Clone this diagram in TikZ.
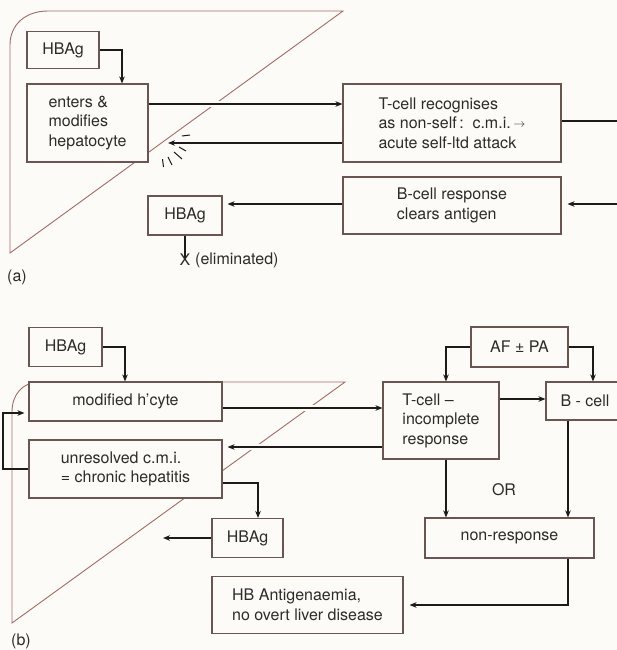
\documentclass[tikz,border=0pt]{standalone}
\usepackage{fontspec}
\setmainfont{TeX Gyre Heros}
\usetikzlibrary{arrows.meta}
\definecolor{bgc}{HTML}{FDFBF8}
\definecolor{boxc}{HTML}{6B5550}
\definecolor{arrc}{HTML}{1E1A1A}
\definecolor{txtc}{HTML}{2E2A2A}
\definecolor{livc}{HTML}{A36B63}
\tikzset{
  box/.style={draw=boxc, line width=1.1pt, fill=bgc, inner sep=0pt, align=left, text=txtc},
  lbl/.style={inner sep=0pt, text=txtc},
  arr/.style={draw=arrc, line width=1.9pt, -{Stealth[length=7pt,width=5.5pt]}},
  ln/.style={draw=arrc, line width=1.9pt},
  tick/.style={draw=arrc, line width=1pt},
  liver/.style={draw=livc, line width=0.9pt},
  halo/.style={preaction={draw=bgc, line width=6pt, arrows=-}}
}
\newcommand{\smarr}{\raisebox{1.5pt}{\fontsize{12}{12}\selectfont$\rightarrow$}}
\begin{document}
\begin{tikzpicture}[x=1pt,y=-1pt,font=\fontsize{16}{19.5}\selectfont]
\useasboundingbox (0,0) rectangle (617,650);
\fill[bgc] (0,0) rectangle (617,650);

% ---------- (a) ----------
\draw[liver] (10,253) -- (10,45) .. controls (10,25) and (25,11) .. (48,11) -- (343,11) -- cycle;

\coordinate (y1) at (0,104);
\coordinate (burst) at (168,143);
\coordinate (ea) at (617,121);
\coordinate (eb) at (617,204);

\node[box, minimum width=72pt, minimum height=37pt] (hb1) at (63,50) {HBAg};
\node[box, minimum width=121pt, minimum height=78pt] (mod1) at (87.5,123) {enters \&\\modifies\\hepatocyte};
\node[box, minimum width=218pt, minimum height=78pt] (tc1) at (452,123) {T-cell recognises\\as non-self\,:\, c.m.i.\,\smarr\\acute self-ltd attack};
\node[box, minimum width=218pt, minimum height=57pt] (bc1) at (452,205.5) {B-cell response\\clears antigen};
\node[box, minimum width=74pt, minimum height=39pt] (hb2) at (185,215.5) {HBAg};

\draw[arr] (hb1.east) -| ([xshift=34.5pt]mod1.north);
\draw[arr,halo] (mod1.east |- y1) -- (tc1.west |- y1);
\draw[arr] (tc1.west |- burst) -- (burst);
\draw[ln] (tc1.east |- ea) -- (ea);
\draw[arr, shorten >=6pt] (eb) -- (bc1.east |- eb);
\draw[arr, shorten >=5pt] (bc1.west |- eb) -- (hb2.east |- eb);

\coordinate (xm) at (185,260);
\draw[ln] (hb2.south) -- (xm);
\node[lbl] (xx) at (xm) {X};
\node[lbl, anchor=west] (elim) at (195,260) {(eliminated)};

% burst marks
\draw[tick] (182,136) -- (190,135);
\draw[tick] (179,147) -- (186,151);
\draw[tick] (174,152) -- (182,159);
\draw[tick] (168,157) -- (172,165);
\draw[tick] (162.5,159) -- (163.5,167);

\node[lbl] (la) at (17,277) {(a)};

% ---------- (b) ----------
\draw[liver] (12,623) -- (12,412) .. controls (12,395) and (22,382) .. (40,382) -- (345,382) -- cycle;

\coordinate (y2) at (0,408);
\coordinate (y3) at (0,447);
\coordinate (y4) at (0,483);
\coordinate (y5) at (0,399);
\coordinate (lp) at (3,413);
\coordinate (t4) at (163,538);
\coordinate (xb) at (568,0);

\node[box, minimum width=73pt, minimum height=39pt] (hb3) at (65.5,347) {HBAg};
\node[box, minimum width=193pt, minimum height=39pt] (mod2) at (125.5,401.5) {modified h'cyte};
\node[box, minimum width=193pt, minimum height=58pt] (unr) at (125.5,469) {unresolved c.m.i.\\= chronic hepatitis};
\node[box, minimum width=71pt, minimum height=39pt] (hb4) at (247.5,538) {HBAg};
\node[box, minimum width=191pt, minimum height=57pt] (hba) at (307.5,605) {HB Antigenaemia,\\no overt liver disease};
\node[box, minimum width=97pt, minimum height=40pt] (af) at (519.5,347) {AF ± PA};
\node[box, minimum width=116pt, minimum height=77pt] (tc2) at (441,420.5) {T-cell --\\incomplete\\response};
\node[box, minimum width=78pt, minimum height=38pt] (bc2) at (585,401) {B - cell};
\node[box, minimum width=169pt, minimum height=40pt] (nr) at (509.5,538) {non-response};
\node[lbl] (or) at (504,490) {OR};

\draw[arr] (hb3.east) -| ([xshift=-0.5pt]mod2.north);
\draw[arr,halo] (mod2.east |- y2) -- (tc2.west |- y2);
\draw[arr,halo, shorten >=5pt] (tc2.west |- y3) -- (unr.east |- y3);
\draw[arr, shorten >=4pt] (unr.west) -| (lp) -- (mod2.west |- lp);
\draw[arr] (unr.east |- y4) -| ([xshift=10.5pt]hb4.north);
\draw[arr] (hb4.west) -- (t4);
\draw[arr] (af.west) -| ([xshift=5pt]tc2.north);
\draw[arr] (af.east) -| ([xshift=8pt]bc2.north);
\draw[arr] (tc2.east |- y5) -- (bc2.west |- y5);
\draw[arr] ([xshift=5pt]tc2.south) -- ([xshift=5pt]tc2.south |- nr.north);
\draw[arr] (bc2.south -| xb) -- (nr.north -| xb);
\draw[arr, shorten >=6pt] (nr.south -| xb) |- (hba.east);

\node[lbl] (lb) at (21,641) {(b)};
\end{tikzpicture}
\end{document}
